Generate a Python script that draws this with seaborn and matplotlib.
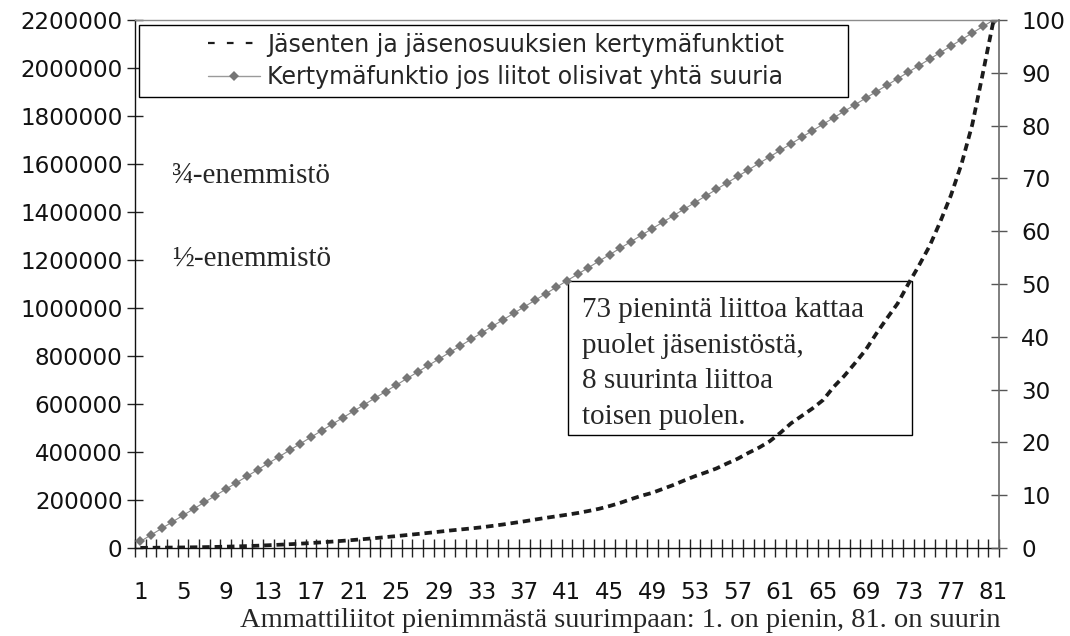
import matplotlib
matplotlib.use("Agg")
import matplotlib.pyplot as plt
import seaborn as sns
import pandas as pd
from matplotlib.patches import Rectangle
from matplotlib.lines import Line2D

# ---- data ----
liitot = list(range(1, 82))
kertyma_pct = [0.02, 0.04, 0.06, 0.08, 0.10, 0.13, 0.16, 0.20, 0.25, 0.30,
               0.36, 0.43, 0.52, 0.61, 0.71, 0.82, 0.94, 1.07, 1.21, 1.36,
               1.52, 1.69, 1.87, 2.06, 2.25, 2.45, 2.65, 2.86, 3.08, 3.30,
               3.50, 3.70, 3.92, 4.18, 4.45, 4.75, 5.05, 5.38, 5.70, 6.00,
               6.30, 6.62, 7.00, 7.42, 7.95, 8.55, 9.25, 9.90, 10.45, 11.20,
               11.95, 12.80, 13.60, 14.30, 15.05, 16.00, 16.90, 18.00, 19.00, 20.20,
               21.80, 23.60, 25.00, 26.40, 28.00, 30.50, 32.60, 35.00, 37.50, 40.60,
               43.50, 46.30, 50.00, 53.50, 57.20, 61.80, 66.80, 72.80, 80.20, 90.00,
               100.0]
tasainen_pct = [1.23, 2.47, 3.70, 4.94, 6.17, 7.41, 8.64, 9.88, 11.11, 12.35,
                13.58, 14.81, 16.05, 17.28, 18.52, 19.75, 20.99, 22.22, 23.46, 24.69,
                25.93, 27.16, 28.40, 29.63, 30.86, 32.10, 33.33, 34.57, 35.80, 37.04,
                38.27, 39.51, 40.74, 41.98, 43.21, 44.44, 45.68, 46.91, 48.15, 49.38,
                50.62, 51.85, 53.09, 54.32, 55.56, 56.79, 58.02, 59.26, 60.49, 61.73,
                62.96, 64.20, 65.43, 66.67, 67.90, 69.14, 70.37, 71.60, 72.84, 74.07,
                75.31, 76.54, 77.78, 79.01, 80.25, 81.48, 82.72, 83.95, 85.19, 86.42,
                87.65, 88.89, 90.12, 91.36, 92.59, 93.83, 95.06, 96.30, 97.53, 98.77,
                100.0]
y_left_ticks = [0, 200000, 400000, 600000, 800000, 1000000, 1200000,
                1400000, 1600000, 1800000, 2000000, 2200000]
y_right_ticks = [0, 10, 20, 30, 40, 50, 60, 70, 80, 90, 100]
x_label_ticks = [1, 5, 9, 13, 17, 21, 25, 29, 33, 37, 41, 45, 49, 53, 57,
                 61, 65, 69, 73, 77, 81]

series1 = "Jäsenten ja jäsenosuuksien kertymäfunktiot"
series2 = "Kertymäfunktio jos liitot olisivat yhtä suuria"
xlabel = "Ammattiliitot pienimmästä suurimpaan: 1. on pienin, 81. on suurin"
note = "73 pienintä liittoa kattaa\npuolet jäsenistöstä,\n8 suurinta liittoa\ntoisen puolen."

# ---- style ----
sns.set_theme(style="white")
plt.rcParams['font.family'] = ['DejaVu Sans']

fig = plt.figure(figsize=(10.7, 6.36), dpi=100)
ax = fig.add_axes([0.1262, 0.1384, 0.8074, 0.8302])
ax2 = ax.twinx()

df = pd.DataFrame({"liitto": liitot, "kertyma": kertyma_pct, "tasainen": tasainen_pct})

line_gray = "#8a8a8a"
mark_gray = "#767676"
sns.lineplot(data=df, x="liitto", y="tasainen", ax=ax2, color=line_gray, lw=0.8,
             marker="D", markersize=5.5, markeredgewidth=0, markerfacecolor=mark_gray,
             legend=False, zorder=2)
sns.lineplot(data=df, x="liitto", y="kertyma", ax=ax2, color="#1c1c1c", lw=2.7,
             linestyle=(0, (2.0, 1.3)), legend=False, zorder=3)

# axes limits
ax.set_xlim(0.5, 81.5)
ax.set_ylim(0, 2200000)
ax2.set_ylim(0, 100)

tick_font = 16.6
# left axis
ax.set_yticks(y_left_ticks)
ax.set_yticklabels([str(v) for v in y_left_ticks], fontsize=tick_font, color="#111111")
ax.tick_params(axis='y', which='major', direction='inout', length=12, width=1,
               color="#222222", pad=3, left=True)
# x axis
ax.set_xticks(x_label_ticks)
ax.set_xticklabels([str(v) for v in x_label_ticks], fontsize=tick_font, color="#111111")
ax.set_xticks([v + 0.5 for v in range(0, 82)], minor=True)
ax.tick_params(axis='x', which='major', length=0, pad=23.5, bottom=True)
ax.tick_params(axis='x', which='minor', direction='inout', length=13, width=1,
               color="#222222", bottom=True)
ax.set_xlabel("")
ax.set_ylabel("")
# right axis
ax2.set_yticks(y_right_ticks)
ax2.set_yticklabels([str(v) for v in y_right_ticks], fontsize=tick_font, color="#111111")
ax2.tick_params(axis='y', which='major', direction='inout', length=12, width=1,
                color="#555555", pad=10, right=True)
ax2.set_ylabel("")
ax2.set_xlabel("")

for s in ["left", "bottom"]:
    ax.spines[s].set_color("#111111")
    ax.spines[s].set_linewidth(1.0)
ax.spines["top"].set_color("#8c8c8c")
ax.spines["top"].set_linewidth(1.0)
ax.spines["right"].set_visible(False)
for s in ["left", "bottom", "top"]:
    ax2.spines[s].set_visible(False)
ax2.spines["right"].set_color("#6a6a6a")
ax2.spines["right"].set_linewidth(1.2)

# legend
fig.patches.append(Rectangle((139 / 1070, 1 - 97 / 636), 709 / 1070, 72 / 636,
                             transform=fig.transFigure, fill=True, facecolor="white",
                             edgecolor="black", lw=1.0, zorder=5))
handles = [Line2D([], [], color="#1c1c1c", lw=1.6, linestyle=(0, (3.0, 5.5))),
           Line2D([], [], color="#9a9a9a", lw=1.0, marker="D", markersize=5,
                  markerfacecolor=mark_gray, markeredgewidth=0)]
leg = fig.legend(handles, [series1, series2], loc="center",
                 bbox_to_anchor=(496 / 1070, 1 - 61 / 636), frameon=False,
                 fontsize=17, handlelength=2.2, handletextpad=0.3,
                 labelspacing=0.38)
leg.set_zorder(6)

# annotations
serif = ['Liberation Serif', 'DejaVu Serif']
ax.text(0.0428, 0.7045, "¾-enemmistö", transform=ax.transAxes, family=serif,
        fontsize=21, va="center", ha="left")
ax.text(0.0428, 0.547, "½-enemmistö", transform=ax.transAxes, family=serif,
        fontsize=21, va="center", ha="left")
ax.add_patch(Rectangle((0.501, 0.214), 0.398, 0.292, transform=ax.transAxes,
                       fill=False, edgecolor="black", lw=1.0, zorder=4))
ax.text(0.5174, 0.4754, note, transform=ax.transAxes, family=serif, fontsize=21,
        va="top", ha="left", linespacing=1.48, zorder=4)

fig.text(620 / 1070, 1 - 627 / 636, xlabel, family=serif, fontsize=20.5,
         ha="center", va="baseline")

fig.savefig("out.png", dpi=100)
